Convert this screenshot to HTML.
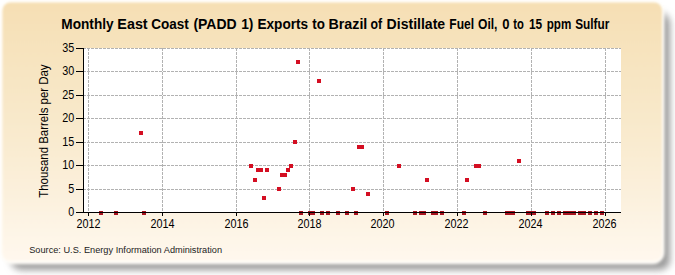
<!DOCTYPE html><html><head><meta charset="utf-8"><style>html,body{margin:0;padding:0;background:#fff;width:675px;height:275px;overflow:hidden}svg{position:absolute;left:0;top:0}text{font-family:"Liberation Sans",sans-serif}</style></head><body><svg width="675" height="275" viewBox="0 0 675 275"><defs><linearGradient id="bg" gradientUnits="userSpaceOnUse" x1="0" y1="2.5" x2="0" y2="262"><stop offset="0" stop-color="#f6dfb4"/><stop offset="0.55" stop-color="#f9ebd0"/><stop offset="1" stop-color="#fff8ee"/></linearGradient><filter id="sh" x="-4%" y="-8%" width="108%" height="116%"><feGaussianBlur stdDeviation="3.5"/></filter><filter id="soft" x="-2%" y="-2%" width="104%" height="104%"><feGaussianBlur stdDeviation="0.8"/></filter><filter id="rim" x="-3%" y="-5%" width="106%" height="110%"><feGaussianBlur stdDeviation="1.4"/></filter></defs><rect x="11" y="13" width="659" height="257" rx="10" fill="#9b9b9b" filter="url(#sh)"/><rect x="0" y="0" width="664.5" height="264.3" rx="12" fill="#fffdf8" filter="url(#rim)"/><rect x="2.5" y="2.5" width="659.5" height="258.3" rx="8" fill="url(#bg)" filter="url(#soft)"/><rect x="84" y="48" width="537" height="164" fill="#ffffff"/><path d="M83 189.5H621M83 165.5H621M83 142.5H621M83 118.5H621M83 95.5H621M83 71.5H621M83 48.5H621M88.5 48V212M162.5 48V212M236.5 48V212M309.5 48V212M383.5 48V212M457.5 48V212M531.5 48V212M605.5 48V212" stroke="#b2b2b2" stroke-width="1" stroke-dasharray="3 1" fill="none" shape-rendering="crispEdges"/><path d="M139 131h4v4h-4zM249 164h4v4h-4zM253 178h4v4h-4zM256 168h4v4h-4zM259 168h4v4h-4zM262 196h4v4h-4zM265 168h4v4h-4zM277 187h4v4h-4zM280 173h4v4h-4zM283 173h4v4h-4zM286 168h4v4h-4zM289 164h4v4h-4zM293 140h4v4h-4zM296 60h4v4h-4zM317 79h4v4h-4zM351 187h4v4h-4zM357 145h4v4h-4zM360 145h4v4h-4zM366 192h4v4h-4zM397 164h4v4h-4zM425 178h4v4h-4zM465 178h4v4h-4zM474 164h4v4h-4zM477 164h4v4h-4zM517 159h4v4h-4z" fill="#d40e22" shape-rendering="crispEdges"/><path d="M99 211h4v4h-4zM114 211h4v4h-4zM142 211h4v4h-4zM299 211h4v4h-4zM308 211h4v4h-4zM311 211h4v4h-4zM320 211h4v4h-4zM326 211h4v4h-4zM336 211h4v4h-4zM345 211h4v4h-4zM354 211h4v4h-4zM385 211h4v4h-4zM413 211h4v4h-4zM419 211h4v4h-4zM422 211h4v4h-4zM431 211h4v4h-4zM434 211h4v4h-4zM440 211h4v4h-4zM462 211h4v4h-4zM483 211h4v4h-4zM505 211h4v4h-4zM508 211h4v4h-4zM511 211h4v4h-4zM526 211h4v4h-4zM529 211h4v4h-4zM532 211h4v4h-4zM545 211h4v4h-4zM551 211h4v4h-4zM557 211h4v4h-4zM563 211h4v4h-4zM566 211h4v4h-4zM569 211h4v4h-4zM572 211h4v4h-4zM578 211h4v4h-4zM582 211h4v4h-4zM588 211h4v4h-4zM594 211h4v4h-4zM600 211h4v4h-4z" fill="#a81420" shape-rendering="crispEdges"/><path d="M83.5 47.5V212.5M83 212.5H621M76 212.5H83M76 189.5H83M76 165.5H83M76 142.5H83M76 118.5H83M76 95.5H83M76 71.5H83M76 48.5H83M88.5 213V216M162.5 213V216M236.5 213V216M309.5 213V216M383.5 213V216M457.5 213V216M531.5 213V216M605.5 213V216" stroke="#000" stroke-width="1" fill="none" shape-rendering="crispEdges"/><g fill="#000" font-size="12"><text transform="translate(74.3 216.3) scale(0.9 1)" text-anchor="end">0</text><text transform="translate(74.3 193.3) scale(0.9 1)" text-anchor="end">5</text><text transform="translate(74.3 169.3) scale(0.9 1)" text-anchor="end">10</text><text transform="translate(74.3 146.3) scale(0.9 1)" text-anchor="end">15</text><text transform="translate(74.3 122.3) scale(0.9 1)" text-anchor="end">20</text><text transform="translate(74.3 99.3) scale(0.9 1)" text-anchor="end">25</text><text transform="translate(74.3 75.3) scale(0.9 1)" text-anchor="end">30</text><text transform="translate(74.3 52.3) scale(0.9 1)" text-anchor="end">35</text><text transform="translate(88.50 228) scale(0.9 1)" text-anchor="middle">2012</text><text transform="translate(162.50 228) scale(0.9 1)" text-anchor="middle">2014</text><text transform="translate(236.50 228) scale(0.9 1)" text-anchor="middle">2016</text><text transform="translate(309.50 228) scale(0.9 1)" text-anchor="middle">2018</text><text transform="translate(382.50 228) scale(0.9 1)" text-anchor="middle">2020</text><text transform="translate(456.50 228) scale(0.9 1)" text-anchor="middle">2022</text><text transform="translate(530.50 228) scale(0.9 1)" text-anchor="middle">2024</text><text transform="translate(604.50 228) scale(0.9 1)" text-anchor="middle">2026</text></g><g fill="#000" font-size="14" font-weight="bold"><text transform="translate(61.32 29) scale(0.975 1)">Monthly</text><text transform="translate(117.37 29) scale(1.025 1)">East</text><text transform="translate(151.23 29) scale(0.968 1)">Coast</text><text transform="translate(193.40 29) scale(1.000 1)">(PADD</text><text transform="translate(241.22 29) scale(0.982 1)">1)</text><text transform="translate(257.43 29) scale(0.975 1)">Exports</text><text transform="translate(312.30 29) scale(0.954 1)">to</text><text transform="translate(328.48 29) scale(1.019 1)">Brazil</text><text transform="translate(370.43 29) scale(0.875 1)">of</text><text transform="translate(386.59 29) scale(1.005 1)">Distillate</text><text transform="translate(449.34 29) scale(0.863 1)">Fuel</text><text transform="translate(478.04 29) scale(0.862 1)">Oil,</text><text transform="translate(502.37 29) scale(0.933 1)">0</text><text transform="translate(513.20 29) scale(0.800 1)">to</text><text transform="translate(528.95 29) scale(0.850 1)">15</text><text transform="translate(546.67 29) scale(0.832 1)">ppm</text><text transform="translate(575.15 29) scale(0.846 1)">Sulfur</text></g><text transform="translate(47.8 197.8) rotate(-90) scale(0.915 1)" font-size="12.5" fill="#000">Thousand Barrels per Day</text><text transform="translate(29.2 253) scale(0.99 1)" font-size="9.3" fill="#222">Source: U.S. Energy Information Administration</text></svg></body></html>
